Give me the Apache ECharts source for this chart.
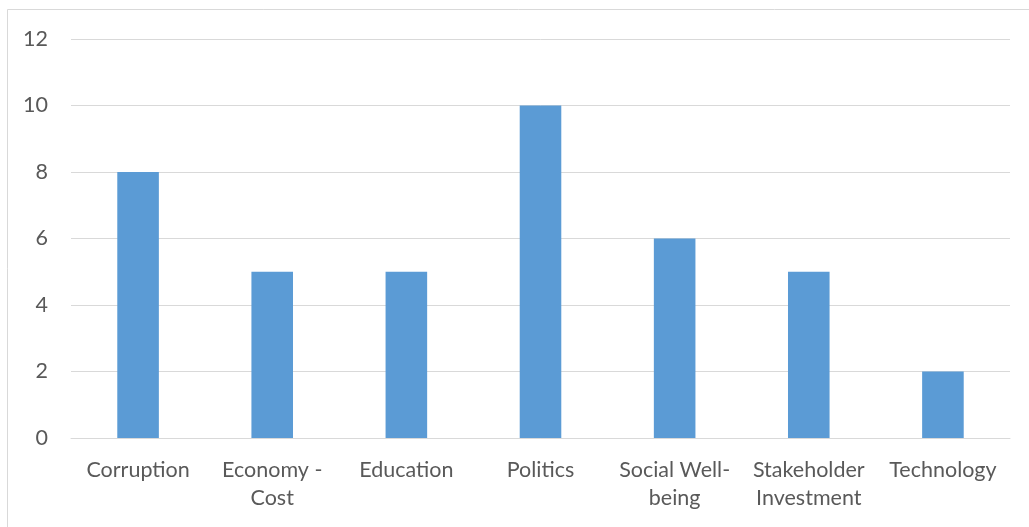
<!DOCTYPE html>
<html>
<head>
<meta charset="utf-8">
<script src="https://cdn.jsdelivr.net/npm/echarts@6/dist/echarts.min.js"></script>
<style>
html,body{margin:0;padding:0;background:#fff;}
#chart{width:1029px;height:527px;}
</style>
</head>
<body>
<div id="chart"></div>
<script>
const categories = ["Corruption", "Economy -\nCost", "Education", "Politics", "Social Well-\nbeing", "Stakeholder\nInvestment", "Technology"];
const values = [8, 5, 5, 10, 6, 5, 2];
const yTicks = [0, 2, 4, 6, 8, 10, 12];

const chart = echarts.init(document.getElementById('chart'));
const font = 'Lato, "Open Sans", sans-serif';
chart.setOption({
  animation: false,
  backgroundColor: '#ffffff',
  graphic: [{
    type: 'rect',
    shape: {x: 7.5, y: 9.5, width: 1040, height: 540},
    style: {fill: 'none', stroke: '#d9d9d9', lineWidth: 1}
  }],
  grid: {left: 71, right: 19, top: 39, bottom: 89, containLabel: false},
  xAxis: {
    type: 'category',
    data: categories,
    axisLine: {show: true, lineStyle: {color: '#d9d9d9', width: 1}},
    axisTick: {show: false},
    axisLabel: {color: '#595959', fontSize: 21.5, fontFamily: font, margin: 18, lineHeight: 28, interval: 0}
  },
  yAxis: {
    type: 'value',
    min: yTicks[0],
    max: yTicks[yTicks.length - 1],
    interval: 2,
    axisLine: {show: false},
    axisTick: {show: false},
    splitLine: {lineStyle: {color: '#d9d9d9', width: 1}},
    axisLabel: {color: '#595959', fontSize: 21.5, fontFamily: font, margin: 23}
  },
  series: [{
    type: 'bar',
    data: values,
    barWidth: '31%',
    itemStyle: {color: '#5b9bd5'}
  }]
});
</script>
</body>
</html>
